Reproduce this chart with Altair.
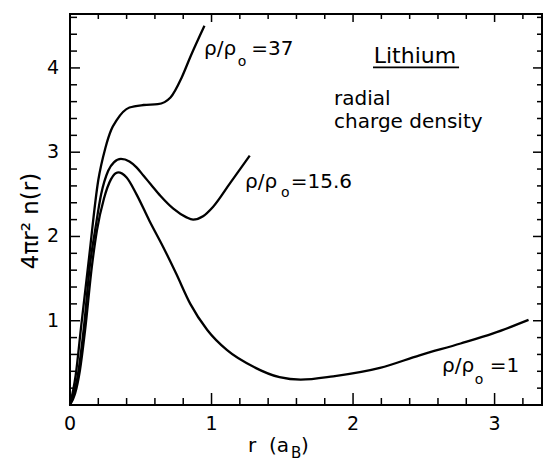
import altair as alt
import pandas as pd

# ---- data ----
r_rho1 = [0, 0.035, 0.07, 0.106, 0.155, 0.19, 0.24, 0.29, 0.34, 0.40, 0.47, 0.56, 0.66, 0.75,
          0.85, 0.97, 1.11, 1.30, 1.48, 1.63, 1.86, 2.19, 2.47, 2.76, 2.99, 3.24]
n_rho1 = [0, 0.13, 0.41, 0.88, 1.65, 2.07, 2.45, 2.68, 2.76, 2.70, 2.50, 2.19, 1.87, 1.56,
          1.20, 0.89, 0.65, 0.45, 0.33, 0.30, 0.34, 0.44, 0.59, 0.73, 0.85, 1.01]

r_rho156 = [0, 0.05, 0.10, 0.14, 0.18, 0.22, 0.27, 0.31, 0.36, 0.42, 0.47, 0.52, 0.57, 0.64,
            0.73, 0.82, 0.87, 0.94, 1.01, 1.13, 1.27]
n_rho156 = [0, 0.30, 0.95, 1.65, 2.10, 2.50, 2.78, 2.88, 2.92, 2.89, 2.82, 2.72, 2.62, 2.48,
            2.33, 2.23, 2.20, 2.24, 2.35, 2.63, 2.96]

r_rho37 = [0, 0.04, 0.08, 0.13, 0.20, 0.25, 0.29, 0.33, 0.42, 0.52, 0.62, 0.71, 0.79, 0.85, 0.95]
n_rho37 = [0, 0.35, 0.95, 1.68, 2.67, 3.05, 3.26, 3.38, 3.53, 3.56, 3.57, 3.65, 3.89, 4.13, 4.50]

x_major = [0, 1, 2, 3]
x_minor = [0.2, 0.4, 0.6, 0.8, 1.2, 1.4, 1.6, 1.8, 2.2, 2.4, 2.6, 2.8, 3.2]
y_major = [1, 2, 3, 4]
y_minor = [0.2, 0.4, 0.6, 0.8, 1.2, 1.4, 1.6, 1.8, 2.2, 2.4, 2.6, 2.8,
           3.2, 3.4, 3.6, 3.8, 4.2, 4.4, 4.6]
x_labels = ["0", "1", "2", "3"]
y_labels = ["1", "2", "3", "4"]

# annotation texts (data coordinates)
ann_text = ["ρ/ρ", "o", "=37",
            "ρ/ρ", "o", "=15.6",
            "ρ/ρ", "o", "=1",
            "Lithium", "radial", "charge density"]
ann_x = [0.947, 1.185, 1.28,
         1.237, 1.49, 1.56,
         2.629, 2.86, 2.965,
         2.146, 1.866, 1.866]
ann_y = [4.148, 4.018, 4.148,
         2.580, 2.464, 2.580,
         0.388, 0.246, 0.388,
         4.053, 3.556, 3.282]
ann_size = [20, 14, 20,
            20, 14, 20,
            20, 14, 20,
            22, 20, 20]

FONT = "DejaVu Sans"
W, H = 472, 391
PAD_L, PAD_T = 70, 14

curves = pd.concat([
    pd.DataFrame({"r": r_rho1, "n": n_rho1, "series": "1"}),
    pd.DataFrame({"r": r_rho156, "n": n_rho156, "series": "15.6"}),
    pd.DataFrame({"r": r_rho37, "n": n_rho37, "series": "37"}),
])

xs = alt.Scale(domain=[0, 3.335], nice=False, zero=False)
ys = alt.Scale(domain=[0, 4.64], nice=False, zero=False)

lines = alt.Chart(curves).mark_line(
    color="black", strokeWidth=2.3, interpolate="monotone"
).encode(
    x=alt.X("r:Q", scale=xs, axis=None),
    y=alt.Y("n:Q", scale=ys, axis=None),
    detail="series:N",
)

def xticks(vals, length, top):
    df = pd.DataFrame({"v": vals})
    if top:
        y0, y1 = 0, length
    else:
        y0, y1 = H, H - length
    return alt.Chart(df).mark_rule(color="black", strokeWidth=1.5).encode(
        x=alt.X("v:Q", scale=xs, axis=None),
        y=alt.value(y0), y2=alt.value(y1))

def yticks(vals, length, right):
    df = pd.DataFrame({"v": vals})
    if right:
        x0, x1 = W, W - length
    else:
        x0, x1 = 0, length
    return alt.Chart(df).mark_rule(color="black", strokeWidth=1.5).encode(
        y=alt.Y("v:Q", scale=ys, axis=None),
        x=alt.value(x0), x2=alt.value(x1))

ticks = [
    xticks(x_major, 12, False), xticks(x_minor, 7, False),
    xticks(x_major, 8, True), xticks(x_minor, 5, True),
    yticks(y_major, 10, False), yticks(y_minor, 7, False),
    yticks(y_major, 9, True), yticks(y_minor, 5, True),
]

# tick labels, placed through the scales
xlab = alt.Chart(pd.DataFrame({"v": x_major, "lab": x_labels})).mark_text(
    align="center", baseline="top", font=FONT, fontSize=19, color="black"
).encode(x=alt.X("v:Q", scale=xs, axis=None), y=alt.value(H + 10), text="lab:N")

ylab = alt.Chart(pd.DataFrame({"v": y_major, "lab": y_labels})).mark_text(
    align="right", baseline="middle", font=FONT, fontSize=19, color="black"
).encode(y=alt.Y("v:Q", scale=ys, axis=None), x=alt.value(-11), text="lab:N")

ann = pd.DataFrame({"t": ann_text, "x": ann_x, "y": ann_y, "fs": ann_size})
labels = alt.Chart(ann).mark_text(
    align="left", baseline="alphabetic", font=FONT, color="black"
).encode(
    x=alt.X("x:Q", scale=xs, axis=None),
    y=alt.Y("y:Q", scale=ys, axis=None),
    text="t:N",
    size=alt.Size("fs:Q", scale=None, legend=None),
)

underline = alt.Chart(pd.DataFrame({"x": [2.141], "x2": [2.749], "y": [4.006]})).mark_rule(
    color="black", strokeWidth=1.8
).encode(
    x=alt.X("x:Q", scale=xs, axis=None), x2="x2:Q",
    y=alt.Y("y:Q", scale=ys, axis=None),
)

# axis titles, placed in pixels relative to the plot area
def title_piece(txt, px, py, fs, angle=0, align="left"):
    return alt.Chart(pd.DataFrame({"t": [txt]})).mark_text(
        align=align, baseline="alphabetic" if angle == 0 else "middle",
        font=FONT, color="black", fontSize=fs, angle=angle,
    ).encode(x=alt.value(px - PAD_L), y=alt.value(py - PAD_T), text="t:N")

titles = [
    title_piece("r", 248, 452, 20),
    title_piece("(a", 269, 452, 20),
    title_piece("B", 291, 458, 15),
    title_piece(")", 301, 452, 20),
    title_piece("4πr² n(r)", 31, 221, 23, angle=270, align="center"),
]

chart = alt.layer(lines, *ticks, xlab, ylab, labels, underline, *titles).properties(
    width=W, height=H,
    background="white",
    autosize=alt.AutoSizeParams(type="none"),
    padding={"left": PAD_L, "top": PAD_T, "right": 544 - PAD_L - W, "bottom": 466 - PAD_T - H},
).configure_view(
    stroke="black", strokeWidth=2
)

chart.save("out.html", embed_options={"renderer": "svg", "actions": False})
